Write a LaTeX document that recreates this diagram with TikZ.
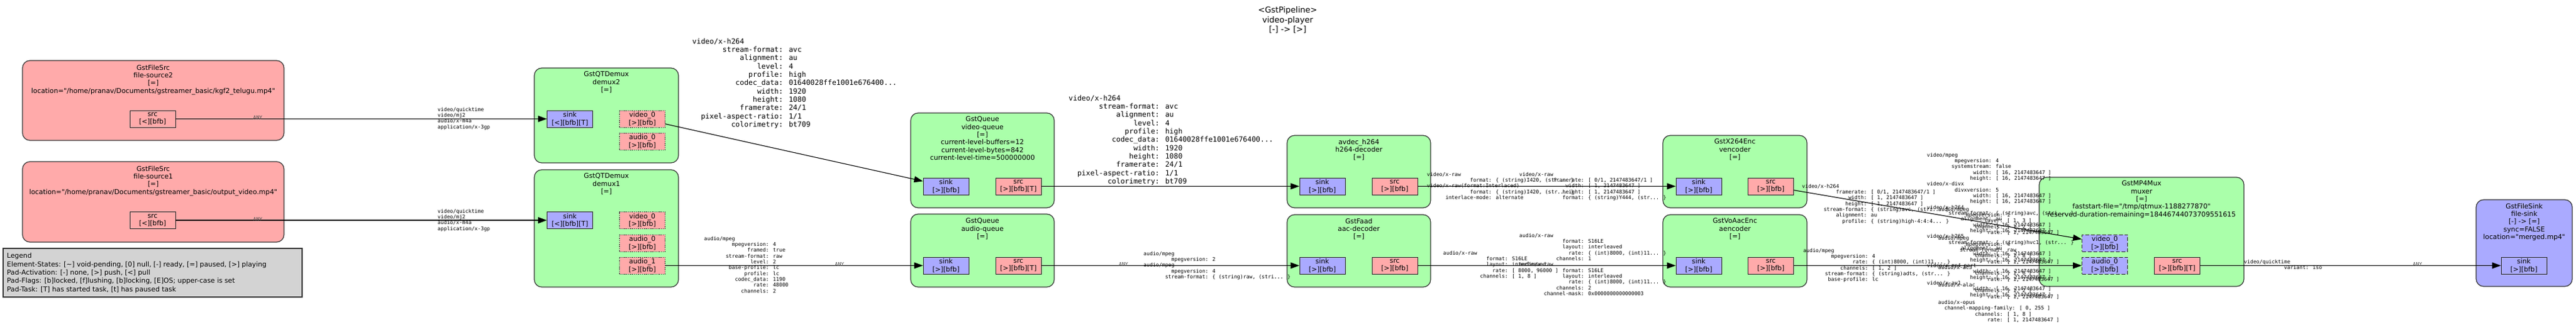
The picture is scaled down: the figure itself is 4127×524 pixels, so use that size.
\documentclass[tikz,border=0pt]{standalone}
\usepackage{fontspec}
\usepackage{tikz}
\usetikzlibrary{arrows.meta}
\newfontfamily\gstfont{DejaVu Sans}
\newfontfamily\capsfont{DejaVu Sans Mono}
\definecolor{elemgreen}{HTML}{AAFFAA}
\definecolor{elemred}{HTML}{FFAAAA}
\definecolor{elemblue}{HTML}{AAAAFF}
\definecolor{legendgray}{HTML}{D3D3D3}
% caps field: two spaces, key padded to 18 columns, then the value
\newcommand\kv[2]{\hspace*{1.204em}\makebox[10.836em][r]{#1}: #2}
\newcommand\kvlong[2]{\hspace*{1.204em}#1: #2}
\newcommand\whrange{\kv{width}{[ 16, 2147483647 ]}\\\kv{height}{[ 16, 2147483647 ]}}

\begin{document}
\begin{tikzpicture}[x=1pt,y=-1pt,
    elem/.style={draw=black!80, line width=1.2pt, rounded corners=12pt, fill=elemgreen, inner sep=0pt},
    srcelem/.style={elem, fill=elemred},
    sinkelem/.style={elem, fill=elemblue},
    elemtext/.style={anchor=north, align=center, inner sep=0pt, font=\gstfont\fontsize{10.8}{12.3}\selectfont},
    pad/.style={draw=black!85, line width=0.9pt, minimum width=73pt, minimum height=27pt, inner sep=0pt, align=center, font=\gstfont\fontsize{10.8}{12.3}\selectfont},
    sinkpad/.style={pad, fill=elemblue},
    srcpad/.style={pad, fill=elemred},
    sometimes/.style={dash pattern=on 1.5pt off 1.8pt},
    request/.style={dash pattern=on 6pt off 3pt},
    link/.style={line width=1.1pt, -{Triangle[length=14pt,width=10pt]}},
    caps/.style={anchor=north west, align=left, inner sep=0pt, font=\capsfont\fontsize{8.2}{9.33}\selectfont},
    bigcaps/.style={caps, font=\capsfont\fontsize{11.5}{13.3}\selectfont},
    anycaps/.style={inner sep=0pt, text=black!70, font=\capsfont\fontsize{8.2}{9.33}\selectfont}]
  \useasboundingbox (0,0) rectangle (4127,524);

  \node[elemtext, font=\gstfont\fontsize{13}{15.5}\selectfont] (title) at (2063,10.8) {<GstPipeline>\\video-player\\{}[-] -> [>]};

  % sources and legend
  \node[srcelem, minimum width=419pt, minimum height=128pt] (fsrc2) at (245.5,161) {};
  \node[elemtext] (fsrc2txt) at (245.5,103.7) {GstFileSrc\\file-source2\\{}[=]\\location="/home/pranav/Documents/gstreamer\_basic/kgf2\_telugu.mp4"};
  \node[srcpad] (fsrc2src) at (244.5,190.5) {src\\{}[<][bfb]};
  \node[srcelem, minimum width=419pt, minimum height=129pt] (fsrc1) at (245.5,323.5) {};
  \node[elemtext] (fsrc1txt) at (245.5,265.7) {GstFileSrc\\file-source1\\{}[=]\\location="/home/pranav/Documents/gstreamer\_basic/output\_video.mp4"};
  \node[srcpad] (fsrc1src) at (244.5,353) {src\\{}[<][bfb]};
  \node[draw=black!80, line width=1.2pt, fill=legendgray, minimum width=479pt, minimum height=78pt] (legend) at (244.5,437) {};
  \node[anchor=north west, align=left, inner sep=0pt, font=\gstfont\fontsize{10.8}{13.3}\selectfont] (legendtxt) at (11,405.5) {Legend\\Element-States: [\textasciitilde] void-pending, [0] null, [-] ready, [=] paused, [>] playing\\Pad-Activation: [-] none, [>] push, [<] pull\\Pad-Flags: [b]locked, [f]lushing, [b]locking, [E]OS; upper-case is set\\Pad-Task: [T] has started task, [t] has paused task};

  % demuxers
  \node[elem, minimum width=231pt, minimum height=152pt] (demux2) at (971.5,185) {};
  \node[elemtext] (demux2txt) at (971.5,114.7) {GstQTDemux\\demux2\\{}[=]};
  \node[sinkpad] (demux2sink) at (913,190.5) {sink\\{}[<][bfb][T]};
  \node[srcpad, sometimes] (demux2video) at (1029,190.5) {video\_0\\{}[>][bfb]};
  \node[srcpad, sometimes] (demux2audio) at (1029,226.5) {audio\_0\\{}[>][bfb]};
  \node[elem, minimum width=231pt, minimum height=188pt] (demux1) at (971.5,366) {};
  \node[elemtext] (demux1txt) at (971.5,277.7) {GstQTDemux\\demux1\\{}[=]};
  \node[sinkpad] (demux1sink) at (913,353) {sink\\{}[<][bfb][T]};
  \node[srcpad, sometimes] (demux1video) at (1029,353) {video\_0\\{}[>][bfb]};
  \node[srcpad, sometimes] (demux1audio) at (1029,389.5) {audio\_0\\{}[>][bfb]};
  \node[srcpad, sometimes] (demux1audiob) at (1029,425.5) {audio\_1\\{}[>][bfb]};

  % queues
  \node[elem, minimum width=230pt, minimum height=152pt] (vqueue) at (1574,257) {};
  \node[elemtext] (vqueuetxt) at (1574,186.7) {GstQueue\\video-queue\\{}[=]\\current-level-buffers=12\\current-level-bytes=842\\current-level-time=500000000};
  \node[sinkpad] (vqueuesink) at (1515.5,298.5) {sink\\{}[>][bfb]};
  \node[srcpad] (vqueuesrc) at (1631.5,298.5) {src\\{}[>][bfb][T]};
  \node[elem, minimum width=230pt, minimum height=117pt] (aqueue) at (1574,401.5) {};
  \node[elemtext] (aqueuetxt) at (1574,349.7) {GstQueue\\audio-queue\\{}[=]};
  \node[sinkpad] (aqueuesink) at (1515.5,425.5) {sink\\{}[>][bfb]};
  \node[srcpad] (aqueuesrc) at (1631.5,425.5) {src\\{}[>][bfb][T]};

  % decoders
  \node[elem, minimum width=230pt, minimum height=116pt] (vdec) at (2177,275) {};
  \node[elemtext] (vdectxt) at (2177,222.7) {avdec\_h264\\h264-decoder\\{}[=]};
  \node[sinkpad] (vdecsink) at (2118.5,298.5) {sink\\{}[>][bfb]};
  \node[srcpad] (vdecsrc) at (2234.5,298.5) {src\\{}[>][bfb]};
  \node[elem, minimum width=230pt, minimum height=116pt] (adec) at (2177,402) {};
  \node[elemtext] (adectxt) at (2177,349.7) {GstFaad\\aac-decoder\\{}[=]};
  \node[sinkpad] (adecsink) at (2118.5,425.5) {sink\\{}[>][bfb]};
  \node[srcpad] (adecsrc) at (2234.5,425.5) {src\\{}[>][bfb]};

  % encoders
  \node[elem, minimum width=231pt, minimum height=116pt] (venc) at (2779.5,275) {};
  \node[elemtext] (venctxt) at (2779.5,222.7) {GstX264Enc\\vencoder\\{}[=]};
  \node[sinkpad] (vencsink) at (2721.5,298.5) {sink\\{}[>][bfb]};
  \node[srcpad] (vencsrc) at (2837,298.5) {src\\{}[>][bfb]};
  \node[elem, minimum width=231pt, minimum height=116pt] (aenc) at (2779.5,402) {};
  \node[elemtext] (aenctxt) at (2779.5,349.7) {GstVoAacEnc\\aencoder\\{}[=]};
  \node[sinkpad] (aencsink) at (2721.5,425.5) {sink\\{}[>][bfb]};
  \node[srcpad] (aencsrc) at (2837,425.5) {src\\{}[>][bfb]};

  % muxer and sink
  \node[elem, minimum width=328pt, minimum height=175pt] (muxer) at (3431,371.5) {};
  \node[elemtext] (muxertxt) at (3431,289.7) {GstMP4Mux\\muxer\\{}[=]\\faststart-file="/tmp/qtmux-1188277870"\\reserved-duration-remaining=18446744073709551615};
  \node[sinkpad, request] (muxervideo) at (3372,389.5) {video\_0\\{}[>][bfb]};
  \node[sinkpad, request] (muxeraudio) at (3372,425.5) {audio\_0\\{}[>][bfb]};
  \node[srcpad] (muxersrc) at (3488,425.5) {src\\{}[>][bfb][T]};
  \node[sinkelem, minimum width=154pt, minimum height=139pt] (fsink) at (4044,389.5) {};
  \node[elemtext] (fsinktxt) at (4044,325.7) {GstFileSink\\file-sink\\{}[-] -> [=]\\sync=FALSE\\location="merged.mp4"};
  \node[sinkpad] (fsinksink) at (4043.5,425.5) {sink\\{}[>][bfb]};

  % links
  \draw[link] (fsrc2src) -- (demux2sink);
  \draw[link] (fsrc1src) -- (demux1sink);
  \draw[link] (demux2video) -- (vqueuesink);
  \draw[link] (demux1audiob) -- (aqueuesink);
  \draw[link] (vqueuesrc) -- (vdecsink);
  \draw[link] (aqueuesrc) -- (adecsink);
  \draw[link] (vdecsrc) -- (vencsink);
  \draw[link] (adecsrc) -- (aencsink);
  \draw[link] (vencsrc) -- (muxervideo);
  \draw[link] (aencsrc) -- (muxeraudio);
  \draw[link] (muxersrc) -- (fsinksink);

  % caps on the links
  \node[anycaps] (anyfsrc2) at (413,188.5) {ANY};
  \node[caps] (qtcaps2) at (701,171.7) {video/quicktime\\video/mj2\\audio/x-m4a\\application/x-3gp};
  \node[anycaps] (anyfsrc1) at (413,351.5) {ANY};
  \node[caps] (qtcaps1) at (701,334.7) {video/quicktime\\video/mj2\\audio/x-m4a\\application/x-3gp};
  \node[bigcaps] (h264capsq) at (1109,61.4) {video/x-h264\\
    \kv{stream-format}{avc}\\
    \kv{alignment}{au}\\
    \kv{level}{4}\\
    \kv{profile}{high}\\
    \kv{codec\_data}{01640028ffe1001e676400...}\\
    \kv{width}{1920}\\
    \kv{height}{1080}\\
    \kv{framerate}{24/1}\\
    \kv{pixel-aspect-ratio}{1/1}\\
    \kv{colorimetry}{bt709}};
  \node[caps] (aaccapsq) at (1128,378.7) {audio/mpeg\\
    \kv{mpegversion}{4}\\
    \kv{framed}{true}\\
    \kv{stream-format}{raw}\\
    \kv{level}{2}\\
    \kv{base-profile}{lc}\\
    \kv{profile}{lc}\\
    \kv{codec\_data}{1190}\\
    \kv{rate}{48000}\\
    \kv{channels}{2}};
  \node[anycaps] (anyaqueuesink) at (1345,424) {ANY};
  \node[bigcaps] (h264capsd) at (1712,152.4) {video/x-h264\\
    \kv{stream-format}{avc}\\
    \kv{alignment}{au}\\
    \kv{level}{4}\\
    \kv{profile}{high}\\
    \kv{codec\_data}{01640028ffe1001e676400...}\\
    \kv{width}{1920}\\
    \kv{height}{1080}\\
    \kv{framerate}{24/1}\\
    \kv{pixel-aspect-ratio}{1/1}\\
    \kv{colorimetry}{bt709}};
  \node[anycaps] (anyaqueuesrc) at (1800,424) {ANY};
  \node[caps] (faadcaps) at (1832,402.7) {audio/mpeg\\
    \kv{mpegversion}{2}\\
    audio/mpeg\\
    \kv{mpegversion}{4}\\
    \kv{stream-format}{\{ (string)raw, (stri... \}}};
  \node[caps] (rawcapsd) at (2286,275.7) {video/x-raw\\
    \kv{format}{\{ (string)I420, (str... \}}\\
    video/x-raw(format:Interlaced)\\
    \kv{format}{\{ (string)I420, (str... \}}\\
    \kv{interlace-mode}{alternate}};
  \node[caps] (rawcapse) at (2434,275.7) {video/x-raw\\
    \kv{framerate}{[ 0/1, 2147483647/1 ]}\\
    \kv{width}{[ 1, 2147483647 ]}\\
    \kv{height}{[ 1, 2147483647 ]}\\
    \kv{format}{\{ (string)Y444, (str... \}}};
  \node[caps] (pcmcapsd) at (2312,401.7) {audio/x-raw\\
    \kv{format}{S16LE}\\
    \kv{layout}{interleaved}\\
    \kv{rate}{[ 8000, 96000 ]}\\
    \kv{channels}{[ 1, 8 ]}};
  \node[caps] (pcmcapse) at (2434,373.7) {audio/x-raw\\
    \kv{format}{S16LE}\\
    \kv{layout}{interleaved}\\
    \kv{rate}{\{ (int)8000, (int)11... \}}\\
    \kv{channels}{1}\\
    audio/x-raw\\
    \kv{format}{S16LE}\\
    \kv{layout}{interleaved}\\
    \kv{rate}{\{ (int)8000, (int)11... \}}\\
    \kv{channels}{2}\\
    \kv{channel-mask}{0x0000000000000003}};
  \node[caps] (h264capse) at (2887,294.7) {video/x-h264\\
    \kv{framerate}{[ 0/1, 2147483647/1 ]}\\
    \kv{width}{[ 1, 2147483647 ]}\\
    \kv{height}{[ 1, 2147483647 ]}\\
    \kv{stream-format}{\{ (string)avc, (stri... \}}\\
    \kv{alignment}{au}\\
    \kv{profile}{\{ (string)high-4:4:4... \}}};
  \node[caps] (aaccapse) at (2889,397.7) {audio/mpeg\\
    \kv{mpegversion}{4}\\
    \kv{rate}{\{ (int)8000, (int)11... \}}\\
    \kv{channels}{[ 1, 2 ]}\\
    \kv{stream-format}{\{ (string)adts, (str... \}}\\
    \kv{base-profile}{lc}};
  \node[caps] (muxvcaps) at (3087,244.7) {video/mpeg\\
    \kv{mpegversion}{4}\\
    \kv{systemstream}{false}\\
    \whrange\\
    video/x-divx\\
    \kv{divxversion}{5}\\
    \whrange\\
    video/x-h264\\
    \kv{stream-format}{\{ (string)avc, (stri... \}}\\
    \kv{alignment}{au}\\
    \whrange\\
    video/x-h265\\
    \kv{stream-format}{\{ (string)hvc1, (str... \}}\\
    \kv{alignment}{au}\\
    \whrange\\
    video/x-mp4-part\\
    \whrange\\
    video/x-av1\\
    \whrange};
  \node[caps] (muxacaps) at (3105,331.7) {audio/mpeg\\
    \kv{mpegversion}{1}\\
    \kv{layer}{[ 1, 3 ]}\\
    \kv{channels}{[ 1, 2 ]}\\
    \kv{rate}{[ 1, 2147483647 ]}\\
    audio/mpeg\\
    \kv{mpegversion}{4}\\
    \kv{stream-format}{raw}\\
    \kv{channels}{[ 1, 8 ]}\\
    \kv{rate}{[ 1, 2147483647 ]}\\
    audio/x-ac3\\
    \kv{channels}{[ 1, 6 ]}\\
    \kv{rate}{[ 1, 2147483647 ]}\\
    audio/x-alac\\
    \kv{channels}{[ 1, 2 ]}\\
    \kv{rate}{[ 1, 2147483647 ]}\\
    audio/x-opus\\
    \kvlong{channel-mapping-family}{[ 0, 255 ]}\\
    \kv{channels}{[ 1, 8 ]}\\
    \kv{rate}{[ 1, 2147483647 ]}};
  \node[caps] (qtcapsmux) at (3595,415.7) {video/quicktime\\\kv{variant}{iso}};
  \node[anycaps] (anyfsink) at (3873,424) {ANY};
\end{tikzpicture}
\end{document}
